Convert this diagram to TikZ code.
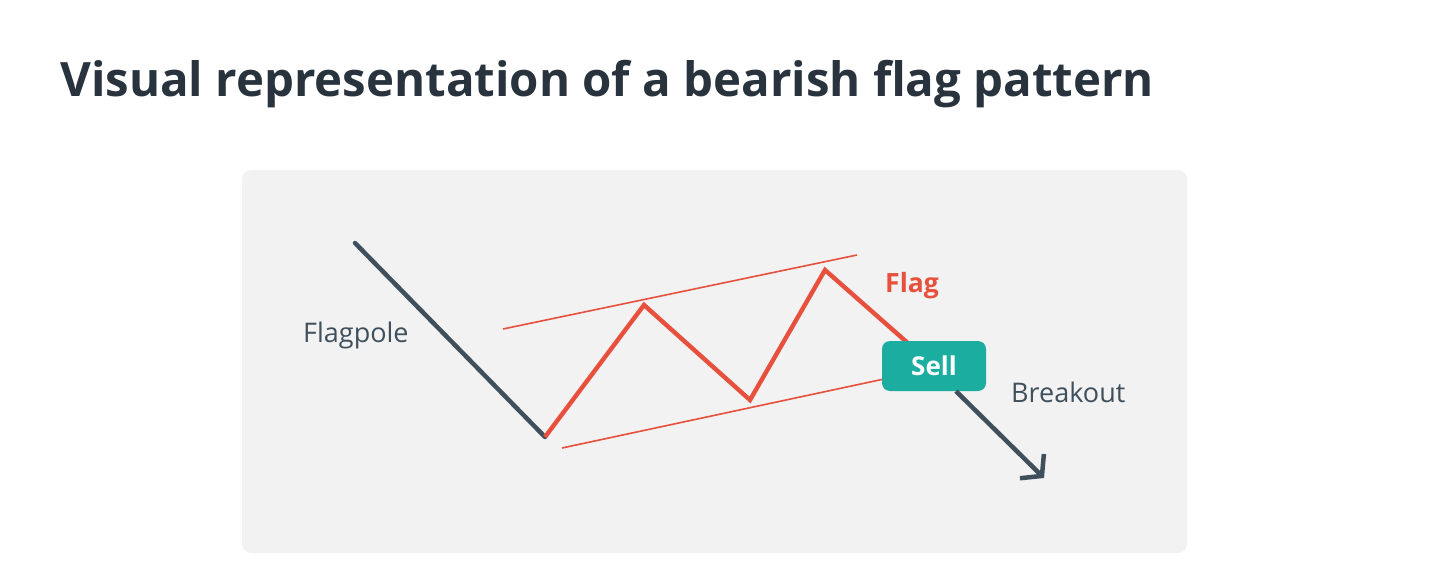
\documentclass[tikz,border=0pt]{standalone}
\usepackage{fontspec}
\setmainfont{Open Sans}
\usepackage{xcolor}
\usetikzlibrary{arrows.meta}

\definecolor{titlegray}{HTML}{28333D}
\definecolor{polegray}{HTML}{3F505C}
\definecolor{flagred}{HTML}{E6503C}
\definecolor{sellteal}{HTML}{1BAD9F}
\definecolor{panelgray}{HTML}{F2F2F2}

\begin{document}
\begin{tikzpicture}[
    x=1pt, y=-1pt,
    pole/.style={line width=4.5pt, polegray, line cap=round, line join=round},
    zigzag/.style={line width=4.4pt, flagred, line join=miter},
    channel/.style={line width=1.6pt, flagred},
    label/.style={anchor=base west, font=\fontsize{27}{32}\selectfont, text=polegray, inner sep=0pt},
    sell_box/.style={fill=sellteal, rounded corners=8pt, minimum width=104pt, minimum height=50pt,
                     text=white, font=\fontsize{26}{30}\selectfont\bfseries}
]
\useasboundingbox (0,0) rectangle (1430,575);

% Title
\node[anchor=base west, inner sep=0pt, text=titlegray, font=\fontsize{47.4}{56}\selectfont\bfseries]
    (title) at (60,97) {Visual representation of a bearish flag pattern};

% Panel
\fill[panelgray, rounded corners=9pt] (242,170) rectangle (1187,553);

% Price points
\coordinate (top) at (355,243);
\coordinate (low1) at (545,437);
\coordinate (high1) at (644,305);
\coordinate (low2) at (750,400);
\coordinate (high2) at (825,270);
\coordinate (exit) at (910,345);

% Channel ends
\coordinate (up_a) at (503,329);
\coordinate (up_b) at (857,255);
\coordinate (lo_a) at (562,448);
\coordinate (lo_b) at (884,379);

% Channel lines
\draw[channel] (up_a) -- (up_b);
\draw[channel] (lo_a) -- (lo_b);

% Flagpole
\draw[pole] (top) -- (low1);

% Flag
\draw[zigzag] (low1) -- (high1) -- (low2) -- (high2) -- (exit);

% Sell marker and breakout
\node[sell_box] (sell) at (934,366) {Sell};
\coordinate (target) at (1044,478);
\draw[pole, line cap=butt, -{Straight Barb[length=14pt, width=34pt, line width=4.5pt]}]
    ([xshift=22pt]sell.south) -- (target);

% Labels
\node[label] (flagpole) at (303,342) {Flagpole};
\node[label] (breakout) at (1011,402) {Breakout};
\node[label, text=flagred, font=\fontsize{26.5}{30}\selectfont\bfseries] (flag) at (885,292) {Flag};

\end{tikzpicture}
\end{document}
